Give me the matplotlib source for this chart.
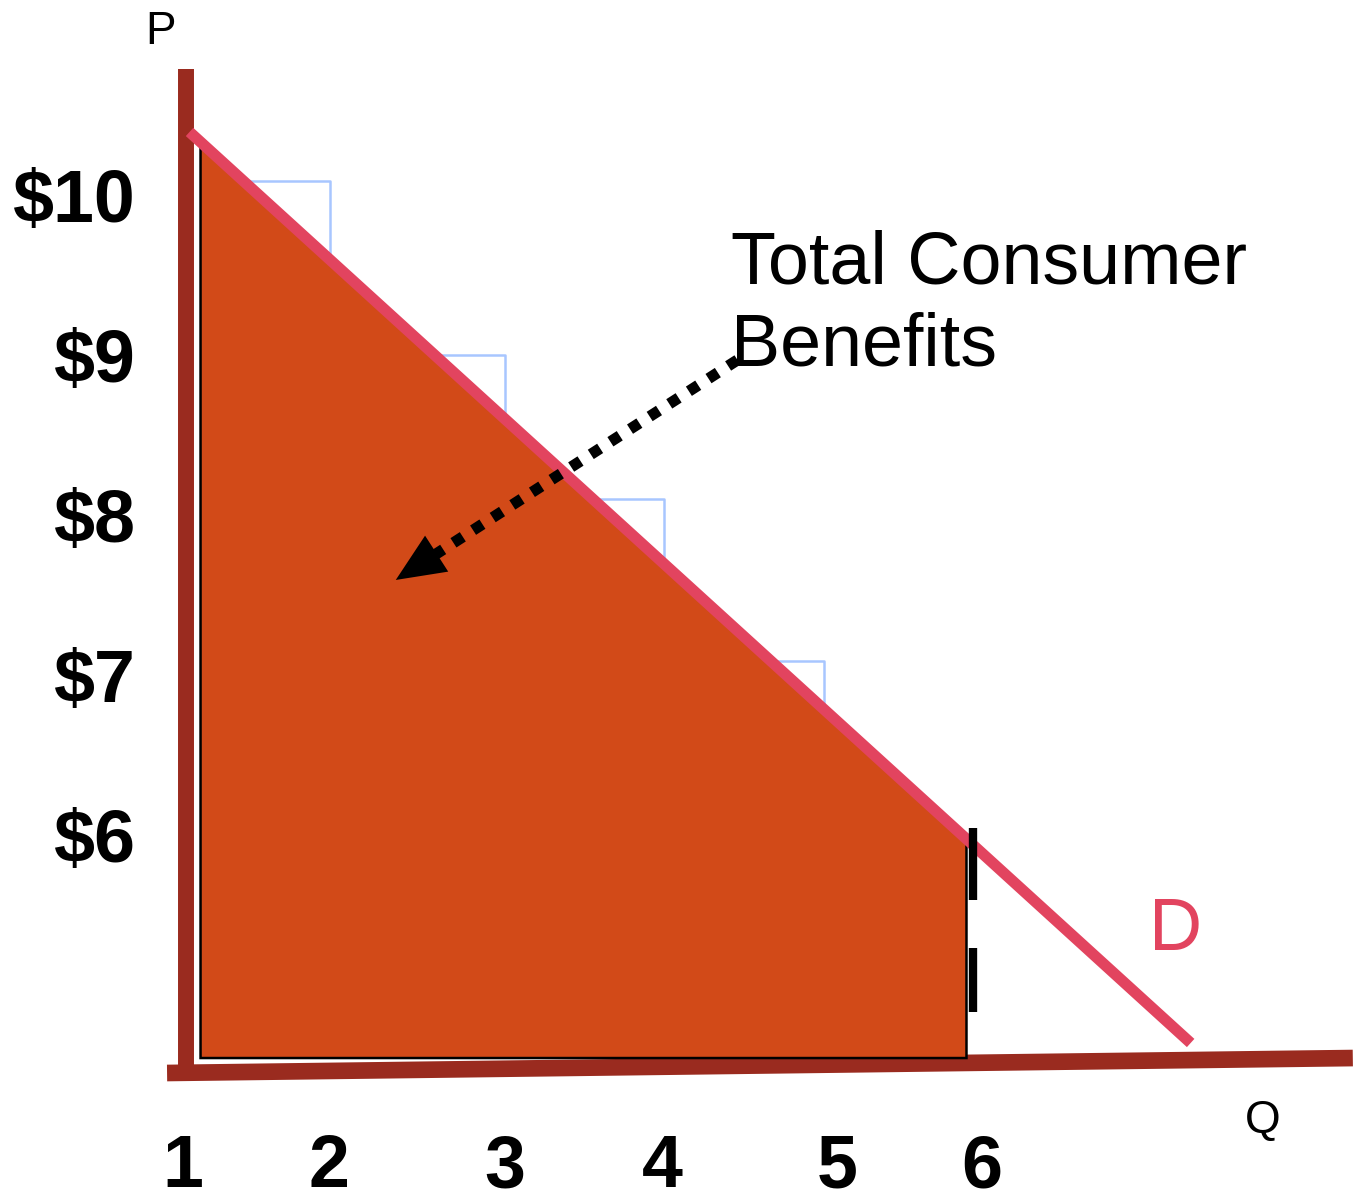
import matplotlib
matplotlib.use("Agg")
import matplotlib.pyplot as plt
import numpy as np

plt.rcParams['font.family'] = ['Liberation Sans', 'DejaVu Sans']

# ---- data ----
q_ticks = [0.99, 1.906, 3.006, 4.0, 5.094, 6.0]
q_labels = ['1', '2', '3', '4', '5', '6']
p_ticks = [10, 9, 8, 7, 6]
p_labels = ['$10', '$9', '$8', '$7', '$6']

demand_q = [1.031, 7.3125]
demand_p = [10.394, 4.70]

benefit_q = [1.10, 5.906, 5.906, 1.10]
benefit_p = [10.31, 5.956, 4.606, 4.606]

step_q = [1.91, 3.01, 4.01, 5.01]
step_p = [10.09, 9.0, 8.1, 7.09]

qty_line_q = 5.944
qty_dash_top = [6.044, 5.294]
qty_dash_bot = [5.594, 4.894]

arrow_start = (4.469, 8.969)
arrow_tip = (2.325, 7.594)

yaxis_q = [1.01, 1.01]
yaxis_p = [10.79, 4.52]
xaxis_q = [0.89, 8.33]
xaxis_p = [4.5125, 4.606]

# ---- figure ----
W, H = 1355, 1200
fig = plt.figure(figsize=(W / 100, H / 100), dpi=100)
left_px, bottom_px = 183, 1065
ax = fig.add_axes([left_px / W, (H - bottom_px) / H, (W - left_px) / W, bottom_px / H])
ax.set_xlim(1.01875, 8.34375)
ax.set_ylim(4.5625, 11.21875)
for s in ax.spines.values():
    s.set_visible(False)
ax.patch.set_alpha(0)

brown = '#9A2B1F'
pink = '#E2445F'
fill = '#D24A18'
blue = '#A8C6FF'

# axes lines
ax.plot(yaxis_q, yaxis_p, color=brown, lw=11.5, solid_capstyle='butt', clip_on=False, zorder=1)
ax.plot(xaxis_q, xaxis_p, color=brown, lw=12, solid_capstyle='butt', clip_on=False, zorder=1)

# consumer benefit area
ax.fill(benefit_q, benefit_p, facecolor=fill, edgecolor='black', lw=1.8, zorder=2, clip_on=False)

# demand
slope = (demand_p[1] - demand_p[0]) / (demand_q[1] - demand_q[0])
def d_price(q):
    return demand_p[0] + slope * (q - demand_q[0])
def d_qty(p):
    return demand_q[0] + (p - demand_p[0]) / slope

# steps
for sq, sp in zip(step_q, step_p):
    ax.plot([d_qty(sp), sq, sq], [sp, sp, d_price(sq)], color=blue, lw=1.8, zorder=3)

ax.plot(demand_q, demand_p, color=pink, lw=8, solid_capstyle='butt', zorder=4, clip_on=False)

# quantity dashes
for a, b in zip(qty_dash_top, qty_dash_bot):
    ax.plot([qty_line_q, qty_line_q], [a, b], color='black', lw=6, solid_capstyle='butt', zorder=5)

# dotted arrow
sx, sy = ax.transData.transform(arrow_start)
tx, ty = ax.transData.transform(arrow_tip)
vec = np.array([sx - tx, sy - ty])
vec = vec / np.hypot(*vec)
bx, by = np.array([tx, ty]) + vec * 34
base = ax.transData.inverted().transform((bx, by))
ax.plot([arrow_start[0], base[0]], [arrow_start[1], base[1]], color='black', lw=8,
        linestyle=(0, (1, 1.1)), dash_capstyle='butt', zorder=6)
ax.annotate('', xy=arrow_tip, xytext=tuple(base),
            arrowprops=dict(arrowstyle='-|>,head_length=1.25,head_width=0.55', color='black',
                            lw=0, shrinkA=0, shrinkB=0, mutation_scale=28), zorder=7)

# ticks
ax.set_xticks(q_ticks, q_labels, fontsize=53, fontweight='bold')
ax.set_yticks(p_ticks, p_labels, fontsize=53, fontweight='bold')
ax.tick_params(axis='x', length=0, pad=49)
ax.tick_params(axis='y', length=0, pad=34)

# texts
ax.text(4.43, 8.9375, 'Total Consumer\nBenefits', fontsize=53, ha='left', va='baseline',
        linespacing=1.24, zorder=8)
ax.text(7.05, 5.28, 'D', fontsize=53, color=pink, ha='left', va='baseline')
ax.text(0.75, 10 + 151 / 160, 'P', fontsize=33, ha='left', va='baseline', clip_on=False)
ax.text(7.65, 10 - 938 / 160, 'Q', fontsize=33, ha='left', va='baseline', clip_on=False)

fig.savefig('out.png', dpi=100)
